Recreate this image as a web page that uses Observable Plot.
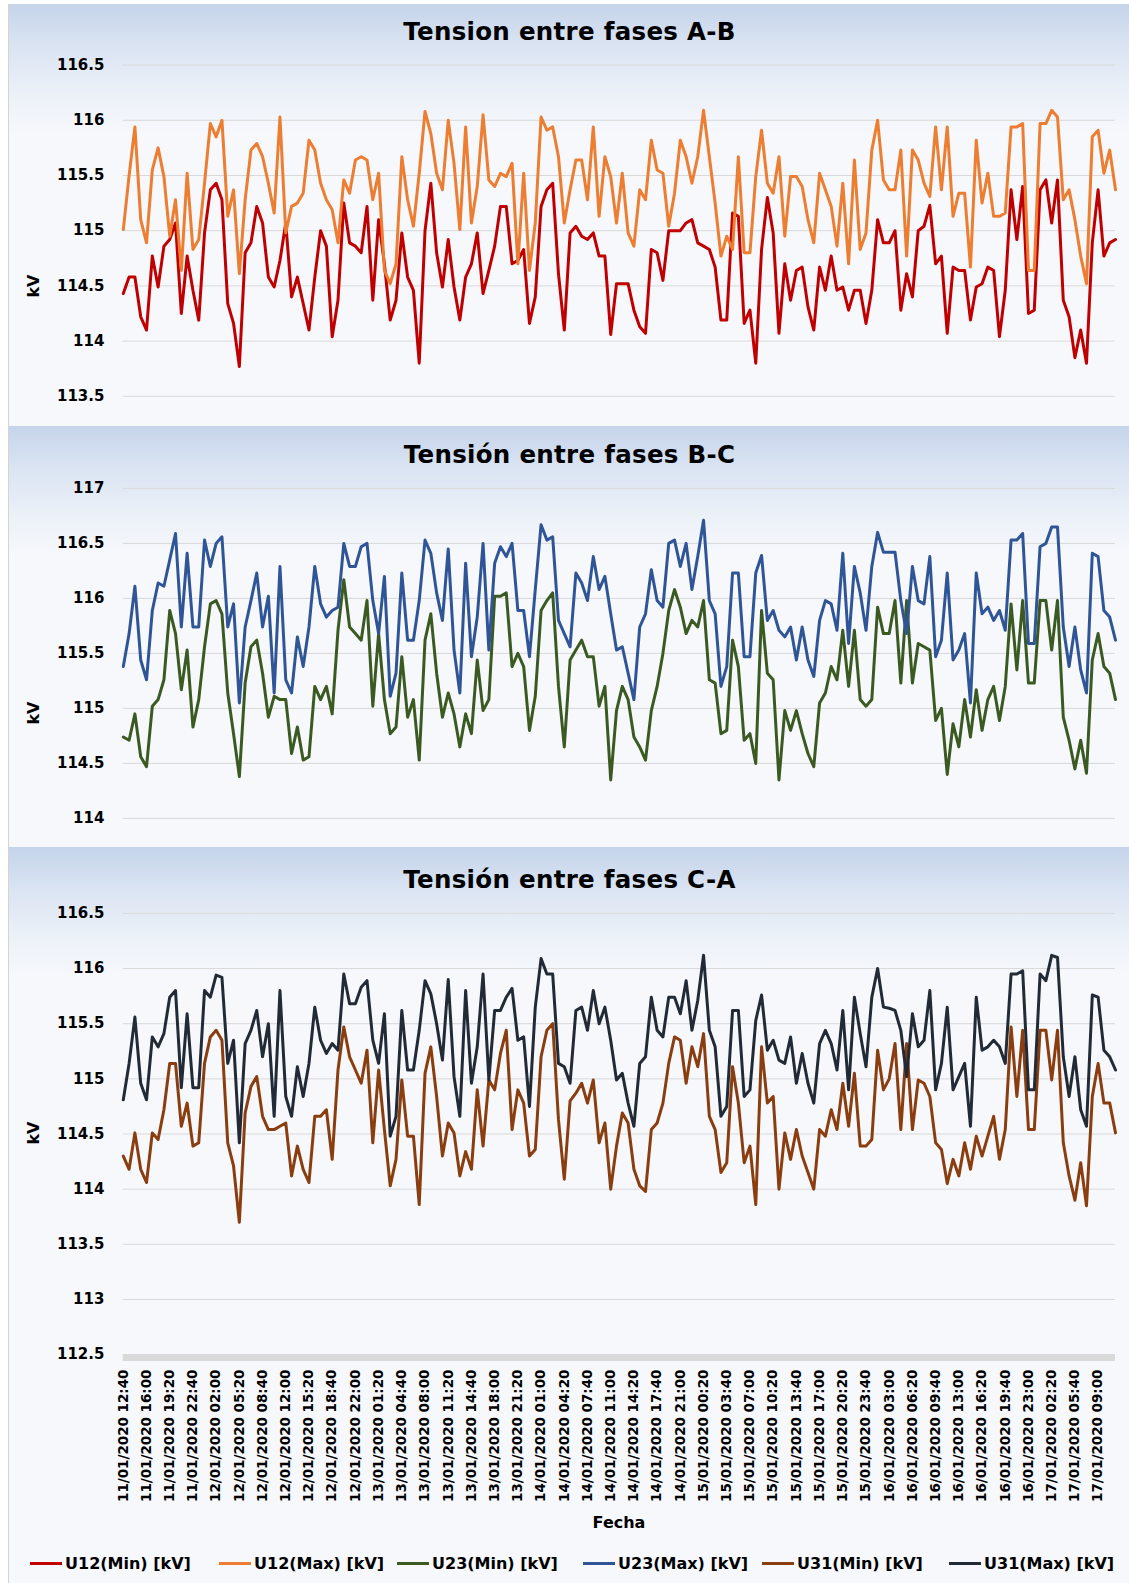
<!DOCTYPE html>
<html><head><meta charset="utf-8">
<script src="https://cdn.jsdelivr.net/npm/d3@7"></script>
<script src="https://cdn.jsdelivr.net/npm/@observablehq/plot@0.6"></script>
<style>
body{margin:0;background:#fff;}
#page{position:relative;width:1129px;height:1583px;overflow:hidden;font-family:"DejaVu Sans",sans-serif;font-weight:bold;color:#000;background:#fff;}
.panel{position:absolute;left:8px;width:1121px;background:linear-gradient(to bottom,#c5d4ea 0px,#d9e3f2 40px,#ecf1f8 90px,#f6f8fc 130px,#f6f8fc 100%);border-left:1px solid #d4d4d4;box-sizing:border-box;}
.panel svg{position:absolute;left:-1px;top:0;}
.title{position:absolute;left:0;width:1121px;text-align:center;font-size:24.5px;line-height:30px;white-space:nowrap;letter-spacing:0.3px;}
.kv{position:absolute;font-size:16px;transform:translate(-50%,-50%) rotate(-90deg);white-space:nowrap;}
.lab{position:absolute;font-size:16px;transform:translate(-50%,-50%);white-space:nowrap;}
.leg{position:absolute;top:1552px;display:flex;align-items:center;font-size:16px;white-space:nowrap;height:22px;}
.leg span.sw{display:inline-block;width:32px;height:3px;margin-right:3px;}
</style>
</head><body>
<div id="page"></div>
<script>
// ---- x categories (10-minute records, one label every 20 records) ----
const xLabels = ["11/01/2020 12:40","11/01/2020 16:00","11/01/2020 19:20","11/01/2020 22:40","12/01/2020 02:00","12/01/2020 05:20","12/01/2020 08:40","12/01/2020 12:00","12/01/2020 15:20","12/01/2020 18:40","12/01/2020 22:00","13/01/2020 01:20","13/01/2020 04:40","13/01/2020 08:00","13/01/2020 11:20","13/01/2020 14:40","13/01/2020 18:00","13/01/2020 21:20","14/01/2020 01:00","14/01/2020 04:20","14/01/2020 07:40","14/01/2020 11:00","14/01/2020 14:20","14/01/2020 17:40","14/01/2020 21:00","15/01/2020 00:20","15/01/2020 03:40","15/01/2020 07:00","15/01/2020 10:20","15/01/2020 13:40","15/01/2020 17:00","15/01/2020 20:20","15/01/2020 23:40","16/01/2020 03:00","16/01/2020 06:20","16/01/2020 09:40","16/01/2020 13:00","16/01/2020 16:20","16/01/2020 19:40","16/01/2020 23:00","17/01/2020 02:20","17/01/2020 05:40","17/01/2020 09:00"];
const recordsPerLabel = 20;
const sampleStep = 5;      // values below are read every 5 records
const lastRecord = 855;

// ---- series (kV) ----
const u12Max = [115.01,115.5,115.94,115.10,114.89,115.55,115.75,115.49,114.95,115.28,114.64,115.52,114.83,114.92,115.43,115.97,115.85,116.0,115.13,115.37,114.61,115.28,115.73,115.79,115.67,115.43,115.16,116.03,114.98,115.22,115.25,115.34,115.82,115.73,115.43,115.28,115.19,114.89,115.46,115.34,115.64,115.67,115.64,115.28,115.52,114.64,114.52,114.7,115.67,115.28,115.04,115.52,116.08,115.88,115.52,115.37,116.0,115.61,115.01,
115.94,115.07,115.4,116.05,115.46,115.4,115.52,115.49,115.61,114.7,115.52,114.64,115.07,116.03,115.91,115.94,115.67,115.07,115.37,115.64,115.64,115.28,115.94,115.13,115.67,115.49,115.07,115.52,114.98,114.86,115.37,115.28,115.82,115.55,115.52,115.04,115.34,115.82,115.67,115.43,115.67,116.09,115.67,115.25,114.77,114.95,114.83,115.67,114.8,114.8,115.49,115.91,115.43,115.34,115.67,114.95,115.49,115.49,
115.4,115.1,114.89,115.52,115.37,115.22,114.86,115.43,114.7,115.64,114.83,114.98,115.73,116.0,115.46,115.37,115.37,115.73,114.77,115.73,115.64,115.43,115.31,115.94,115.37,115.94,115.13,115.34,115.34,114.67,115.82,115.25,115.52,115.13,115.13,115.16,115.94,115.94,115.97,114.64,114.64,115.97,115.97,116.09,116.03,115.28,115.37,115.1,114.77,114.52,115.85,115.91,115.52,115.73,115.37];
const u12Min = [114.43,114.58,114.58,114.22,114.1,114.77,114.49,114.86,114.92,115.07,114.25,114.77,114.46,114.19,114.98,115.37,115.43,115.28,114.34,114.16,113.77,114.8,114.89,115.22,115.07,114.58,114.49,114.73,115.07,114.4,114.58,114.34,114.1,114.58,115.0,114.86,114.04,114.37,115.25,114.89,114.86,114.8,115.22,114.37,115.1,114.7,114.19,114.37,114.98,114.58,114.46,113.8,115.0,115.43,114.8,114.49,114.92,114.49,114.19,
114.58,114.7,114.98,114.43,114.64,114.86,115.22,115.22,114.7,114.73,114.83,114.16,114.4,115.22,115.37,115.43,114.61,114.1,114.98,115.04,114.95,114.92,114.98,114.77,114.77,114.06,114.52,114.52,114.52,114.28,114.13,114.07,114.83,114.8,114.55,115.0,115.0,115.0,115.07,115.1,114.89,114.86,114.83,114.67,114.19,114.19,115.16,115.13,114.16,114.28,113.8,114.83,115.3,114.98,114.07,114.7,114.37,114.64,
114.67,114.31,114.1,114.67,114.46,114.77,114.46,114.49,114.28,114.46,114.46,114.16,114.46,115.1,114.89,114.89,115.0,114.28,114.61,114.4,115.0,115.04,115.23,114.7,114.77,114.07,114.67,114.64,114.64,114.19,114.49,114.52,114.67,114.64,114.04,114.46,115.37,114.92,115.4,114.25,114.28,115.37,115.46,115.07,115.46,114.37,114.22,113.85,114.1,113.8,114.89,115.37,114.77,114.89,114.92];
const u23Max = [115.38,115.68,116.11,115.44,115.26,115.89,116.14,116.11,116.35,116.59,115.74,116.41,115.74,115.74,116.53,116.29,116.5,116.56,115.74,115.95,115.05,115.74,115.98,116.23,115.74,116.02,115.14,116.29,115.26,115.14,115.65,115.38,115.74,116.29,115.95,115.83,115.89,115.92,116.5,116.29,116.29,116.47,116.5,115.98,115.68,116.2,115.11,115.32,116.23,115.62,115.62,115.98,116.53,116.41,116.05,115.8,116.45,115.53,115.14,
116.32,115.47,115.83,116.5,115.53,116.32,116.47,116.38,116.5,115.89,115.89,115.47,116.08,116.67,116.53,116.56,115.8,115.68,115.56,116.23,116.14,115.98,116.38,116.08,116.2,115.86,115.53,115.56,115.32,115.08,115.74,115.86,116.26,115.98,115.92,116.5,116.53,116.29,116.5,116.08,116.38,116.71,115.98,115.86,115.2,115.38,116.23,116.23,115.47,115.47,116.23,116.39,115.8,115.89,115.71,115.65,115.74,115.44,
115.74,115.44,115.29,115.8,115.98,115.95,115.71,116.41,115.59,116.29,116.05,115.71,116.29,116.6,116.42,116.42,116.42,115.98,115.68,116.29,115.98,115.95,116.38,115.47,115.62,116.23,115.44,115.53,115.68,115.05,116.23,115.86,115.92,115.8,115.89,115.71,116.53,116.53,116.59,115.59,115.59,116.47,116.5,116.65,116.65,115.74,115.38,115.74,115.35,115.14,116.41,116.38,115.89,115.83,115.62];
const u23Min = [114.74,114.71,114.95,114.56,114.47,115.02,115.08,115.26,115.89,115.68,115.17,115.53,114.83,115.08,115.56,115.95,115.98,115.86,115.14,114.77,114.38,115.23,115.56,115.62,115.32,114.92,115.11,115.08,115.08,114.59,114.83,114.53,114.56,115.2,115.08,115.2,114.95,115.71,116.17,115.74,115.68,115.62,115.98,115.02,115.68,115.08,114.77,114.83,115.47,114.92,115.08,114.53,115.62,115.86,115.32,114.92,115.14,114.95,114.65,
114.95,114.77,115.44,114.98,115.08,116.02,116.02,116.05,115.38,115.5,115.38,114.8,115.11,115.89,115.98,116.05,115.2,114.65,115.44,115.53,115.62,115.47,115.47,115.02,115.2,114.35,114.98,115.2,115.08,114.74,114.65,114.53,114.98,115.2,115.5,115.89,116.08,115.92,115.68,115.8,115.74,115.98,115.26,115.23,114.77,114.8,115.62,115.38,114.71,114.77,114.5,115.89,115.32,115.26,114.35,114.98,114.8,114.98,
114.77,114.59,114.47,115.05,115.14,115.38,115.26,115.71,115.2,115.71,115.08,115.02,115.08,115.92,115.68,115.68,115.98,115.23,115.98,115.23,115.59,115.56,115.53,114.89,115.0,114.4,114.86,114.65,115.08,114.74,115.17,114.8,115.08,115.2,114.89,115.2,115.95,115.35,115.98,115.23,115.23,115.98,115.98,115.53,115.98,114.92,114.71,114.45,114.71,114.41,115.44,115.68,115.38,115.32,115.08];
const u31Max = [114.81,115.14,115.56,114.96,114.81,115.38,115.29,115.41,115.74,115.8,114.92,115.59,114.92,114.92,115.8,115.74,115.94,115.92,115.14,115.35,114.42,115.32,115.44,115.62,115.2,115.5,114.66,115.8,114.84,114.66,115.11,114.84,115.14,115.65,115.35,115.23,115.32,115.26,115.95,115.68,115.68,115.83,115.89,115.35,115.14,115.59,114.48,114.66,115.62,115.08,115.08,115.44,115.89,115.77,115.5,115.17,115.9,115.02,114.66,
115.8,114.96,115.29,115.95,114.99,115.62,115.62,115.74,115.82,115.35,115.38,114.75,115.65,116.09,115.95,115.95,115.14,115.11,114.96,115.62,115.65,115.44,115.8,115.5,115.65,115.35,114.99,115.05,114.78,114.57,115.14,115.2,115.74,115.44,115.38,115.74,115.74,115.59,115.89,115.44,115.71,116.12,115.44,115.29,114.66,114.75,115.62,115.62,114.84,114.9,115.53,115.76,115.26,115.35,115.17,115.14,115.38,114.96,
115.23,114.96,114.78,115.32,115.44,115.32,115.08,115.62,114.9,115.74,115.41,115.11,115.74,116.0,115.65,115.64,115.62,115.44,115.02,115.59,115.29,115.35,115.8,114.9,115.14,115.65,114.9,115.02,115.14,114.57,115.74,115.26,115.29,115.35,115.29,115.14,115.95,115.95,115.98,114.9,114.9,115.95,115.89,116.12,116.1,115.2,114.84,115.2,114.72,114.57,115.76,115.74,115.26,115.2,115.08];
const u31Min = [114.3,114.18,114.51,114.18,114.06,114.51,114.45,114.72,115.14,115.14,114.57,114.78,114.39,114.42,115.14,115.38,115.44,115.35,114.42,114.21,113.7,114.69,114.93,115.02,114.66,114.54,114.54,114.57,114.6,114.12,114.39,114.18,114.06,114.66,114.66,114.72,114.27,115.08,115.47,115.2,115.08,114.96,115.26,114.42,115.08,114.54,114.03,114.27,114.99,114.48,114.48,113.86,115.05,115.29,114.84,114.3,114.6,114.51,114.12,
114.34,114.18,114.9,114.39,114.99,114.9,115.23,115.44,114.54,114.9,114.78,114.3,114.36,115.2,115.44,115.5,114.63,114.09,114.8,114.87,114.96,114.78,114.99,114.42,114.6,114.0,114.39,114.69,114.6,114.18,114.03,113.98,114.54,114.6,114.78,115.14,115.38,115.35,114.96,115.29,115.11,115.41,114.66,114.54,114.15,114.24,115.11,114.78,114.24,114.39,113.86,115.29,114.78,114.84,114.0,114.51,114.27,114.54,
114.3,114.15,114.0,114.54,114.48,114.72,114.54,114.96,114.57,115.05,114.39,114.39,114.45,115.26,114.9,115.0,115.32,114.54,115.32,114.54,114.99,114.96,114.84,114.42,114.36,114.05,114.27,114.12,114.42,114.18,114.48,114.3,114.48,114.66,114.27,114.54,115.47,114.84,115.44,114.54,114.54,115.44,115.44,114.99,115.44,114.42,114.12,113.9,114.24,113.85,114.84,115.14,114.78,114.78,114.51];

// ---- y ticks ----
const yTicksAB = [113.5,114,114.5,115,115.5,116,116.5];
const yLabelsAB = ["113.5","114","114.5","115","115.5","116","116.5"];
const yTicksBC = [114,114.5,115,115.5,116,116.5,117];
const yLabelsBC = ["114","114.5","115","115.5","116","116.5","117"];
const yTicksCA = [112.5,113,113.5,114,114.5,115,115.5,116,116.5];
const yLabelsCA = ["112.5","113","113.5","114","114.5","115","115.5","116","116.5"];

const seriesNames = ["U12(Min) [kV]","U12(Max) [kV]","U23(Min) [kV]","U23(Max) [kV]","U31(Min) [kV]","U31(Max) [kV]"];
const seriesColors = ["#c00000","#ed7d31","#3b5a22","#2f5597","#8a3d0e","#222a35"];

const titles = ["Tension entre fases A-B","Tensión entre fases B-C","Tensión entre fases C-A"];

const rows = vals => vals.map((v, k) => ({i: k * sampleStep, v}));
const xTickIdx = xLabels.map((_, k) => k * recordsPerLabel);
const xLabelMap = new Map(xTickIdx.map((t, k) => [t, xLabels[k]]));

const page = document.getElementById("page");

function panel({top, height, mt, mb, titleY, kvY, yTicks, yLabels, mins, maxs, cMin, cMax, xAxis, title}) {
  const div = document.createElement("div");
  div.className = "panel";
  div.style.top = top + "px";
  div.style.height = height + "px";
  page.appendChild(div);
  const yMap = new Map(yTicks.map((t, k) => [t, yLabels[k]]));
  const marks = [
    Plot.ruleY(yTicks, {stroke: "#d9d9d9", strokeWidth: 1}),
  ];
  if (xAxis) marks.push(Plot.ruleY([yTicks[0]], {stroke: "#d9d9d9", strokeWidth: 7, dy: 3}));
  marks.push(
    Plot.axisY(yTicks, {anchor: "left", tickSize: 0, tickPadding: 19, tickFormat: d => yMap.get(d), fontSize: 15, fontWeight: "bold", label: null}),
    Plot.line(rows(mins), {x: "i", y: "v", stroke: cMin, strokeWidth: 3, strokeLinejoin: "round"}),
    Plot.line(rows(maxs), {x: "i", y: "v", stroke: cMax, strokeWidth: 3, strokeLinejoin: "round"})
  );
  if (xAxis) marks.push(Plot.axisX(xTickIdx, {anchor: "bottom", tickSize: 0, tickPadding: 15, tickRotate: -90, tickFormat: d => xLabelMap.get(d), fontSize: 13.5, fontWeight: "bold", label: null}));
  const svg = Plot.plot({
    width: 1122, height,
    marginLeft: 115, marginRight: 13, marginTop: mt, marginBottom: mb,
    x: {domain: [0, lastRecord], axis: xAxis ? undefined : null},
    y: {domain: [yTicks[0], yTicks[yTicks.length - 1]]},
    style: {background: "transparent", fontFamily: "'DejaVu Sans', sans-serif", fontWeight: "bold", fontSize: "15px", color: "#000", overflow: "visible"},
    marks
  });
  div.appendChild(svg);
  const t = document.createElement("div");
  t.className = "title";
  t.style.top = (titleY - top - 15) + "px";
  t.textContent = title;
  div.appendChild(t);
  const kv = document.createElement("div");
  kv.className = "kv";
  kv.style.left = (32 - 8) + "px";
  kv.style.top = (kvY - top) + "px";
  kv.textContent = "kV";
  div.appendChild(kv);
}

panel({top: 4, height: 422, mt: 60.7, mb: 29.5, titleY: 31.5, kvY: 286, yTicks: yTicksAB, yLabels: yLabelsAB, mins: u12Min, maxs: u12Max, cMin: seriesColors[0], cMax: seriesColors[1], xAxis: false, title: titles[0]});
panel({top: 426, height: 421, mt: 62, mb: 28.4, titleY: 454.5, kvY: 713, yTicks: yTicksBC, yLabels: yLabelsBC, mins: u23Min, maxs: u23Max, cMin: seriesColors[2], cMax: seriesColors[3], xAxis: false, title: titles[1]});
panel({top: 847, height: 736, mt: 66, mb: 228, titleY: 879.5, kvY: 1133, yTicks: yTicksCA, yLabels: yLabelsCA, mins: u31Min, maxs: u31Max, cMin: seriesColors[4], cMax: seriesColors[5], xAxis: true, title: titles[2]});

// axis title
const fecha = document.createElement("div");
fecha.className = "lab";
fecha.style.left = "619px"; fecha.style.top = "1522px";
fecha.textContent = "Fecha";
page.appendChild(fecha);

// legend
const legendLeft = [30, 219, 397, 583, 762, 949];
seriesNames.forEach((name, k) => {
  const it = document.createElement("div");
  it.className = "leg";
  it.style.left = legendLeft[k] + "px";
  const sw = document.createElement("span");
  sw.className = "sw";
  sw.style.background = seriesColors[k];
  it.appendChild(sw);
  it.appendChild(document.createTextNode(name));
  page.appendChild(it);
});
</script>
</body></html>
